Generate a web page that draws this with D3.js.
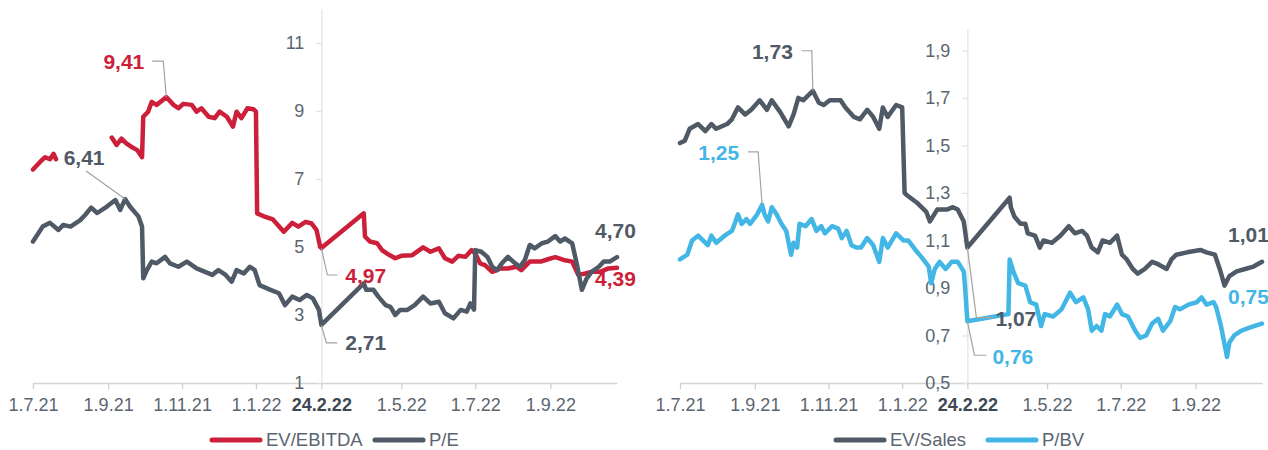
<!DOCTYPE html>
<html>
<head>
<meta charset="utf-8">
<script src="https://cdn.jsdelivr.net/npm/d3@7"></script>
<style>
  body { margin: 0; background: #fff; }
  svg { display: block; font-family: "Liberation Sans", Arial, sans-serif; }
</style>
</head>
<body>
<svg id="chart" width="1268" height="450"></svg>
<script>
// axis ticks
const xTicks = ['1.7.21', '1.9.21', '1.11.21', '1.1.22', '24.2.22', '1.5.22', '1.7.22', '1.9.22'];
const breakDate = '24.2.22';
const startDate = '1.7.21', endDate = '26.10.22';
const leftYTicks = [1, 3, 5, 7, 9, 11];
const rightYTicks = [0.5, 0.7, 0.9, 1.1, 1.3, 1.5, 1.7, 1.9];

// P/E
const peDates = ['1.7.21','9.7.21','15.7.21','22.7.21','26.7.21','1.8.21','9.8.21','13.8.21','18.8.21','23.8.21','31.8.21','7.9.21','11.9.21','15.9.21','19.9.21','26.9.21','29.9.21','30.9.21','3.10.21','7.10.21','11.10.21','18.10.21','22.10.21','29.10.21','5.11.21','13.11.21','20.11.21','26.11.21','1.12.21','7.12.21','12.12.21','16.12.21','22.12.21','27.12.21','31.12.21','4.1.22','13.1.22','20.1.22','25.1.22','31.1.22','6.2.22','12.2.22','17.2.22','22.2.22','24.2.22','31.3.22','2.4.22','8.4.22','12.4.22','18.4.22','22.4.22','26.4.22','30.4.22','6.5.22','12.5.22','19.5.22','25.5.22','1.6.22','6.6.22','13.6.22','19.6.22','24.6.22','27.6.22','30.6.22','1.7.22','6.7.22','11.7.22','15.7.22','19.7.22','23.7.22','28.7.22','3.8.22','7.8.22','11.8.22','15.8.22','19.8.22','25.8.22','30.8.22','5.9.22','9.9.22','13.9.22','19.9.22','23.9.22','27.9.22','1.10.22','5.10.22','11.10.22','15.10.22','20.10.22','26.10.22'];
const peValues = [5.16,5.60,5.71,5.50,5.65,5.60,5.79,5.94,6.16,6.00,6.19,6.38,6.09,6.41,6.19,5.90,5.60,4.08,4.32,4.57,4.52,4.71,4.52,4.42,4.57,4.37,4.27,4.18,4.32,4.18,3.98,4.32,4.22,4.42,4.32,3.88,3.74,3.64,3.29,3.54,3.44,3.59,3.49,3.15,2.71,3.93,3.74,3.74,3.54,3.29,3.24,3.00,3.15,3.15,3.29,3.54,3.34,3.39,3.05,2.90,3.15,3.10,3.34,3.16,4.91,4.86,4.71,4.42,4.32,4.52,4.71,4.52,4.42,4.62,5.06,4.96,5.11,5.16,5.32,5.16,5.25,5.11,4.47,3.74,4.08,4.27,4.42,4.57,4.57,4.70];

// EV/EBITDA (null = no data)
const ebitdaDates = ['1.7.21','7.7.21','11.7.21','15.7.21','18.7.21','20.7.21','21.7.21','4.9.21','8.9.21','12.9.21','16.9.21','20.9.21','25.9.21','29.9.21','30.9.21','4.10.21','7.10.21','11.10.21','16.10.21','19.10.21','25.10.21','29.10.21','2.11.21','9.11.21','13.11.21','17.11.21','23.11.21','28.11.21','2.12.21','8.12.21','13.12.21','16.12.21','20.12.21','25.12.21','30.12.21','1.1.22','2.1.22','7.1.22','15.1.22','24.1.22','31.1.22','5.2.22','11.2.22','16.2.22','20.2.22','23.2.22','24.2.22','31.3.22','1.4.22','5.4.22','11.4.22','15.4.22','19.4.22','26.4.22','1.5.22','10.5.22','19.5.22','25.5.22','1.6.22','6.6.22','12.6.22','17.6.22','23.6.22','28.6.22','1.7.22','5.7.22','9.7.22','15.7.22','22.7.22','28.7.22','4.8.22','8.8.22','15.8.22','24.8.22','30.8.22','5.9.22','12.9.22','19.9.22','24.9.22','30.9.22','5.10.22','12.10.22','19.10.22','26.10.22'];
const ebitdaValues = [7.28,7.51,7.64,7.58,7.74,7.58,null,8.22,8.00,8.19,8.05,7.95,7.85,7.64,8.83,8.98,9.27,9.18,9.32,9.41,9.18,9.08,9.21,9.18,8.98,9.08,8.83,8.79,8.98,8.83,8.54,8.98,8.79,9.08,9.05,8.98,5.99,5.91,5.81,5.45,5.71,5.60,5.74,5.69,5.50,5.01,4.97,5.99,5.31,5.16,5.11,4.91,4.81,4.67,4.74,4.76,4.99,4.86,4.96,4.67,4.57,4.74,4.71,4.91,4.81,4.52,4.47,4.27,4.37,4.37,4.42,4.32,4.57,4.57,4.64,4.70,4.62,4.57,4.18,4.22,4.27,4.27,4.37,4.39];

// EV/Sales
const salesDates = ['1.7.21','5.7.21','9.7.21','16.7.21','22.7.21','27.7.21','31.7.21','9.8.21','13.8.21','18.8.21','24.8.21','29.8.21','5.9.21','11.9.21','15.9.21','22.9.21','29.9.21','3.10.21','7.10.21','11.10.21','19.10.21','24.10.21','28.10.21','2.11.21','11.11.21','15.11.21','22.11.21','27.11.21','3.12.21','8.12.21','13.12.21','16.12.21','20.12.21','27.12.21','1.1.22','3.1.22','5.1.22','13.1.22','21.1.22','24.1.22','30.1.22','7.2.22','12.2.22','16.2.22','21.2.22','24.2.22','31.3.22','1.4.22','4.4.22','9.4.22','13.4.22','15.4.22','21.4.22','25.4.22','28.4.22','5.5.22','12.5.22','19.5.22','24.5.22','30.5.22','3.6.22','7.6.22','12.6.22','16.6.22','22.6.22','28.6.22','2.7.22','6.7.22','11.7.22','15.7.22','21.7.22','27.7.22','1.8.22','8.8.22','12.8.22','16.8.22','25.8.22','5.9.22','10.9.22','17.9.22','21.9.22','25.9.22','29.9.22','5.10.22','12.10.22','19.10.22','26.10.22'];
const salesValues = [1.51,1.52,1.57,1.59,1.56,1.59,1.57,1.59,1.61,1.66,1.63,1.65,1.69,1.65,1.69,1.64,1.58,1.63,1.70,1.69,1.73,1.68,1.67,1.69,1.69,1.66,1.62,1.61,1.65,1.62,1.57,1.66,1.62,1.67,1.66,1.30,1.29,1.26,1.22,1.18,1.23,1.23,1.24,1.23,1.18,1.07,1.28,1.24,1.20,1.17,1.17,1.13,1.12,1.07,1.10,1.09,1.12,1.16,1.13,1.14,1.12,1.07,1.05,1.10,1.09,1.12,1.04,1.02,0.98,0.96,0.98,1.01,1.00,0.98,1.02,1.04,1.05,1.06,1.05,1.04,0.98,0.91,0.95,0.97,0.98,0.99,1.01];

// P/BV
const pbvDates = ['1.7.21','7.7.21','11.7.21','16.7.21','20.7.21','24.7.21','27.7.21','31.7.21','7.8.21','13.8.21','16.8.21','18.8.21','21.8.21','25.8.21','28.8.21','3.9.21','7.9.21','9.9.21','12.9.21','15.9.21','19.9.21','23.9.21','27.9.21','1.10.21','3.10.21','6.10.21','8.10.21','13.10.21','18.10.21','22.10.21','26.10.21','29.10.21','4.11.21','9.11.21','12.11.21','16.11.21','20.11.21','24.11.21','28.11.21','3.12.21','8.12.21','13.12.21','16.12.21','20.12.21','27.12.21','2.1.22','6.1.22','12.1.22','17.1.22','23.1.22','25.1.22','28.1.22','1.2.22','6.2.22','11.2.22','16.2.22','21.2.22','22.2.22','24.2.22','30.3.22','31.3.22','3.4.22','7.4.22','13.4.22','17.4.22','22.4.22','26.4.22','29.4.22','6.5.22','13.5.22','20.5.22','25.5.22','31.5.22','4.6.22','7.6.22','11.6.22','15.6.22','18.6.22','22.6.22','28.6.22','2.7.22','7.7.22','13.7.22','17.7.22','22.7.22','27.7.22','1.8.22','5.8.22','11.8.22','15.8.22','19.8.22','26.8.22','2.9.22','6.9.22','10.9.22','16.9.22','18.9.22','22.9.22','27.9.22','29.9.22','3.10.22','9.10.22','14.10.22','20.10.22','26.10.22'];
const pbvValues = [1.02,1.04,1.10,1.12,1.10,1.08,1.12,1.09,1.12,1.14,1.18,1.21,1.17,1.19,1.17,1.21,1.25,1.21,1.18,1.24,1.21,1.17,1.14,1.04,1.09,1.07,1.17,1.16,1.19,1.14,1.16,1.13,1.16,1.15,1.11,1.14,1.08,1.07,1.07,1.11,1.08,1.01,1.11,1.07,1.13,1.10,1.10,1.06,1.03,0.99,0.92,0.98,1.01,0.98,1.01,1.01,0.97,0.91,0.76,0.79,1.02,0.97,0.92,0.91,0.84,0.83,0.74,0.79,0.78,0.81,0.88,0.84,0.86,0.81,0.72,0.74,0.72,0.79,0.78,0.83,0.79,0.78,0.72,0.69,0.70,0.75,0.77,0.72,0.76,0.82,0.81,0.83,0.84,0.86,0.83,0.84,0.82,0.74,0.61,0.67,0.70,0.72,0.73,0.74,0.75];

const RED = '#cc1f3a', GREY = '#4f5a66', BLUE = '#42b6e5';
const TICK_TEXT = '#5b6570';

const parse = d3.timeParse('%d.%m.%y');
const ru = d3.formatLocale({decimal: ',', thousands: ' ', grouping: [3], currency: ['', '']});
const fmt2 = ru.format('.2f');

const svg = d3.select('#chart');
const baseY = 383;
const legendY = 440;

function toPoints(dates, values) {
  return dates.map((d, i) => ({date: parse(d), value: values[i]}));
}

function drawPanel(cfg) {
  const x = d3.scaleTime().domain([parse(startDate), parse(endDate)]).range(cfg.xRange);
  const y = d3.scaleLinear().domain(cfg.yDomain).range([baseY, cfg.yTop]);
  const g = svg.append('g');

  // x axis
  const xa = g.append('g')
    .attr('transform', `translate(0,${baseY})`)
    .call(d3.axisBottom(x)
      .tickValues(xTicks.map(parse))
      .tickFormat((d, i) => xTicks[i])
      .tickSize(6).tickPadding(9).tickSizeOuter(0));
  xa.select('.domain').attr('stroke', '#d4d4d4').attr('stroke-width', 1.3);
  xa.selectAll('.tick line').attr('stroke', '#cfcfcf').attr('stroke-width', 1.3);
  xa.selectAll('.tick text')
    .attr('font-size', 18)
    .attr('font-family', '"Liberation Sans", Arial, sans-serif')
    .attr('fill', TICK_TEXT)
    .filter((d, i) => xTicks[i] === breakDate)
    .attr('font-weight', 'bold')
    .attr('fill', '#3e4852');

  // y axis at the break date
  const ya = g.append('g')
    .attr('transform', `translate(${x(parse(breakDate))},0)`)
    .call(d3.axisLeft(y)
      .tickValues(cfg.yTicks)
      .tickFormat(cfg.yFormat)
      .tickSize(5).tickPadding(12).tickSizeOuter(0));
  ya.select('.domain').attr('stroke', '#e4e4e4').attr('stroke-width', 1.3);
  ya.selectAll('.tick line').attr('stroke', '#e0e0e0').attr('stroke-width', 1.3);
  ya.selectAll('.tick text')
    .attr('font-size', 18)
    .attr('font-family', '"Liberation Sans", Arial, sans-serif')
    .attr('fill', TICK_TEXT);

  const line = d3.line()
    .defined(d => d.value != null)
    .x(d => x(d.date))
    .y(d => y(d.value));

  cfg.series.forEach(s => {
    g.append('path')
      .datum(s.points)
      .attr('fill', 'none')
      .attr('stroke', s.color)
      .attr('stroke-width', 4.5)
      .attr('stroke-linejoin', 'round')
      .attr('stroke-linecap', 'round')
      .attr('d', line);
  });

  // value callouts
  cfg.notes.forEach(n => {
    const s = cfg.series[n.s];
    const pt = s.points.find(p => +p.date === +parse(n.date));
    const px = x(pt.date), py = y(pt.value);
    if (n.leader) {
      g.append('path')
        .attr('fill', 'none')
        .attr('stroke', '#a3a3a3')
        .attr('stroke-width', 1.2)
        .attr('d', d3.line()(n.leader.map(([dx, dy]) => [px + dx, py + dy])));
    }
    g.append('text')
      .attr('x', px + n.text[0])
      .attr('y', py + n.text[1])
      .attr('dy', '0.36em')
      .attr('text-anchor', n.anchor)
      .attr('font-size', 21)
      .attr('font-weight', 'bold')
      .attr('fill', s.color)
      .text(fmt2(pt.value));
  });

  // legend
  cfg.series.forEach(s => {
    const lx = cfg.legendX[s.legendOrder];
    g.append('line')
      .attr('x1', lx).attr('x2', lx + 48)
      .attr('y1', legendY).attr('y2', legendY)
      .attr('stroke', s.color)
      .attr('stroke-width', 5)
      .attr('stroke-linecap', 'round');
    g.append('text')
      .attr('x', lx + 54)
      .attr('y', legendY)
      .attr('dy', '0.35em')
      .attr('font-size', 18.5)
      .attr('fill', TICK_TEXT)
      .text(s.name);
  });
}

drawPanel({
  xRange: [33, 617],
  yDomain: [1, 12],
  yTop: 9,
  yTicks: leftYTicks,
  yFormat: ru.format('.0f'),
  legendX: [212, 375],
  series: [
    {name: 'EV/EBITDA', color: RED, legendOrder: 0, points: toPoints(ebitdaDates, ebitdaValues)},
    {name: 'P/E', color: GREY, legendOrder: 1, points: toPoints(peDates, peValues)}
  ],
  notes: [
    {s: 0, date: '19.10.21', leader: [[0, 0], [-3, -36], [-14, -36]], text: [-22, -36], anchor: 'end'},
    {s: 1, date: '15.9.21', leader: [[0, 0], [-39, -28]], text: [-41, -42], anchor: 'middle'},
    {s: 0, date: '24.2.22', leader: [[0, 0], [6, 27], [16, 27]], text: [24, 27], anchor: 'start'},
    {s: 1, date: '24.2.22', leader: [[0, 0], [5, 18], [16, 18]], text: [24, 18], anchor: 'start'},
    {s: 1, date: '26.10.22', text: [-22, -27], anchor: 'start'},
    {s: 0, date: '26.10.22', text: [-22, 11], anchor: 'start'}
  ]
});

drawPanel({
  xRange: [680, 1262],
  yDomain: [0.5, 1.99],
  yTop: 29,
  yTicks: rightYTicks,
  yFormat: ru.format('.1f'),
  legendX: [836, 988],
  series: [
    {name: 'EV/Sales', color: GREY, legendOrder: 0, points: toPoints(salesDates, salesValues)},
    {name: 'P/BV', color: BLUE, legendOrder: 1, points: toPoints(pbvDates, pbvValues)}
  ],
  notes: [
    {s: 0, date: '19.10.21', leader: [[0, 0], [-1, -40], [-11, -40]], text: [-20, -39], anchor: 'end'},
    {s: 1, date: '7.9.21', leader: [[0, 0], [-4, -53], [-14, -53]], text: [-23, -52], anchor: 'end'},
    {s: 0, date: '24.2.22', leader: [[0, 0], [9, 70], [26, 70]], text: [28, 71], anchor: 'start'},
    {s: 1, date: '24.2.22', leader: [[0, 0], [7, 34], [19, 34]], text: [25, 35], anchor: 'start'},
    {s: 0, date: '26.10.22', text: [-34, -27], anchor: 'start'},
    {s: 1, date: '26.10.22', text: [-34, -27], anchor: 'start'}
  ]
});
</script>
</body>
</html>
